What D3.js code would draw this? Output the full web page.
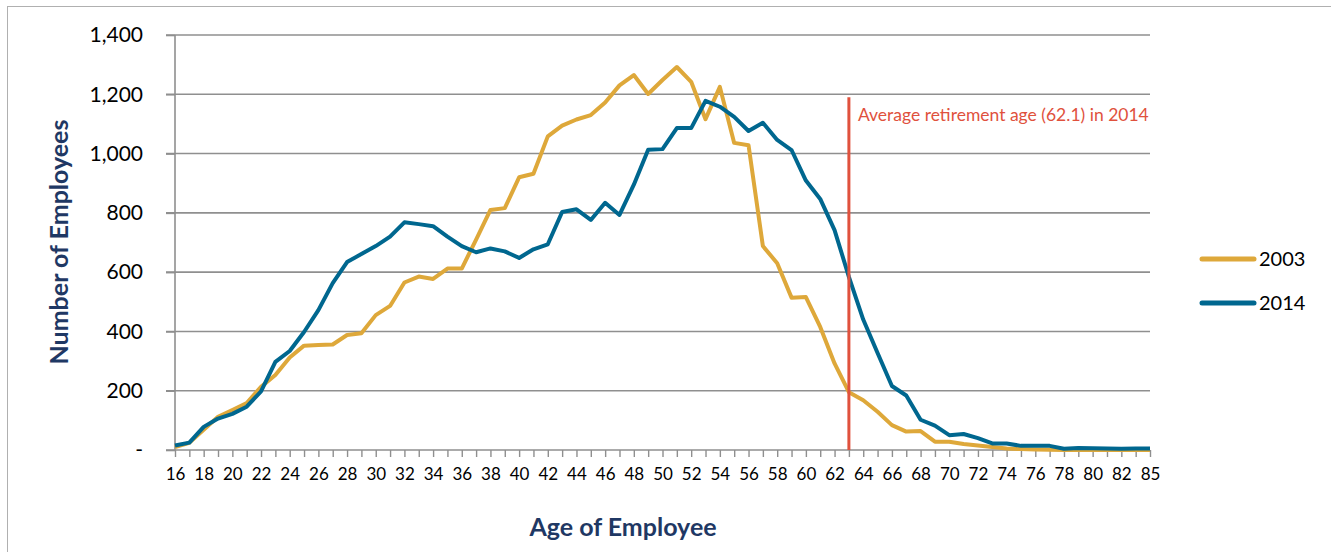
<!DOCTYPE html>
<html>
<head>
<meta charset="utf-8">
<script src="https://cdn.jsdelivr.net/npm/d3@7/dist/d3.min.js"></script>
<style>
  html, body { margin: 0; padding: 0; background: #fff; }
  svg { display: block; font-family: Lato, "Open Sans", sans-serif; }
</style>
</head>
<body>
<svg id="chart" width="1331" height="552"></svg>
<script>
// ---- Data ----
const ages = ["16","17","18","19","20","21","22","23","24","25","26","27","28","29","30","31","32","33","34","35","36","37","38","39","40","41","42","43","44","45","46","47","48","49","50","51","52","53","54","55","56","57","58","59","60","61","62","63","64","65","66","67","68","69","70","71","72","73","74","75","76","77","78","79","80","81","82","83","85"];

const series2003 = [10,24,68,112,135,158,213,253,312,352,354,356,388,394,455,486,565,585,577,612,612,710,810,816,920,932,1058,1094,1115,1130,1172,1230,1265,1201,1248,1292,1242,1116,1225,1036,1028,688,630,514,516,415,292,195,168,129,84,62,64,28,28,20,15,10,5,3,2,1,0,0,0,0,0,0,0];

const series2014 = [15,25,78,106,122,146,198,297,334,398,472,563,634,661,688,720,768,762,755,720,688,667,680,670,648,677,694,803,812,776,834,793,895,1013,1015,1086,1086,1178,1158,1124,1076,1104,1046,1012,909,847,742,584,440,327,216,184,102,82,50,54,40,22,22,14,14,14,4,7,6,5,4,5,5];

const seriesNames = ["2003", "2014"];
const yTicks = [0, 200, 400, 600, 800, 1000, 1200, 1400];
const retirementAgeLabel = "Average retirement age (62.1) in 2014";
const retirementCategory = "63";
const retirementLineTop = 1190;

// ---- Layout ----
const svg = d3.select("#chart");
const colors = { "2003": "#DEA83A", "2014": "#00678F" };
const navy = "#1F3864";
const gridColor = "#8f8f8f";

const x = d3.scalePoint().domain(ages).range([175, 1150]);
const y = d3.scaleLinear().domain([0, 1400]).range([450, 35]);

// outer frame
svg.append("rect")
  .attr("x", 7.5).attr("y", 6.5)
  .attr("width", 1340).attr("height", 560)
  .attr("fill", "none").attr("stroke", "#b0b0b0").attr("stroke-width", 1);

// gridlines
svg.append("g").selectAll("line")
  .data(yTicks.filter(d => d > 0))
  .join("line")
  .attr("x1", 166).attr("x2", 1150)
  .attr("y1", d => y(d)).attr("y2", d => y(d))
  .attr("stroke", gridColor).attr("stroke-width", 1.6);

// y axis
const yAxis = d3.axisLeft(y)
  .tickValues(yTicks)
  .tickFormat(d => d === 0 ? "-" : d3.format(",")(d))
  .tickSize(9)
  .tickPadding(23);
const gy = svg.append("g").attr("transform", "translate(175,0)").call(yAxis);
gy.select(".domain").attr("stroke", gridColor).attr("stroke-width", 1.6).attr("d", "M0,35V450");
gy.selectAll(".tick line").attr("stroke", gridColor).attr("stroke-width", 1.6);
gy.selectAll(".tick text").attr("font-size", 21).attr("fill", "#000")
  .attr("font-family", "Lato, sans-serif");

// x axis
const xAxis = d3.axisBottom(x)
  .tickSize(7)
  .tickPadding(11)
  .tickFormat((d, i) => i % 2 === 0 ? d : "");
const gx = svg.append("g").attr("transform", "translate(0,450)").call(xAxis);
gx.select(".domain").attr("stroke", gridColor).attr("stroke-width", 1.6).attr("d", "M166,0H1150");
gx.selectAll(".tick line").attr("stroke", gridColor).attr("stroke-width", 1.4);
gx.selectAll(".tick text").attr("font-size", 17).attr("fill", "#000")
  .attr("font-family", "Lato, sans-serif");

// lines
const line = d3.line()
  .x((d, i) => x(ages[i]))
  .y(d => y(d));

[series2003, series2014].forEach((s, k) => {
  svg.append("path")
    .datum(s)
    .attr("fill", "none")
    .attr("stroke", colors[seriesNames[k]])
    .attr("stroke-width", 4)
    .attr("stroke-linejoin", "round")
    .attr("d", line);
});

// retirement marker
svg.append("line")
  .attr("x1", x(retirementCategory)).attr("x2", x(retirementCategory))
  .attr("y1", y(retirementLineTop)).attr("y2", y(0))
  .attr("stroke", "#E0513D").attr("stroke-width", 3);
svg.append("text")
  .attr("x", x(retirementCategory) + 9).attr("y", 121)
  .attr("font-size", 17.5).attr("fill", "#E0513D")
  .text(retirementAgeLabel);

// legend
seriesNames.forEach((name, k) => {
  const ly = 259 + k * 44;
  svg.append("line")
    .attr("x1", 1202).attr("x2", 1254)
    .attr("y1", ly).attr("y2", ly)
    .attr("stroke", colors[name]).attr("stroke-width", 5)
    .attr("stroke-linecap", "round");
  svg.append("text")
    .attr("x", 1259).attr("y", ly + 7)
    .attr("font-size", 20).attr("fill", "#000")
    .text(name);
});

// axis titles
svg.append("text")
  .attr("transform", "translate(68,242) rotate(-90)")
  .attr("text-anchor", "middle")
  .attr("font-size", 25).attr("font-weight", "bold").attr("fill", navy)
  .text("Number of Employees");
svg.append("text")
  .attr("x", 623).attr("y", 536)
  .attr("text-anchor", "middle")
  .attr("font-size", 25).attr("font-weight", "bold").attr("fill", navy)
  .text("Age of Employee");
</script>
</body>
</html>
